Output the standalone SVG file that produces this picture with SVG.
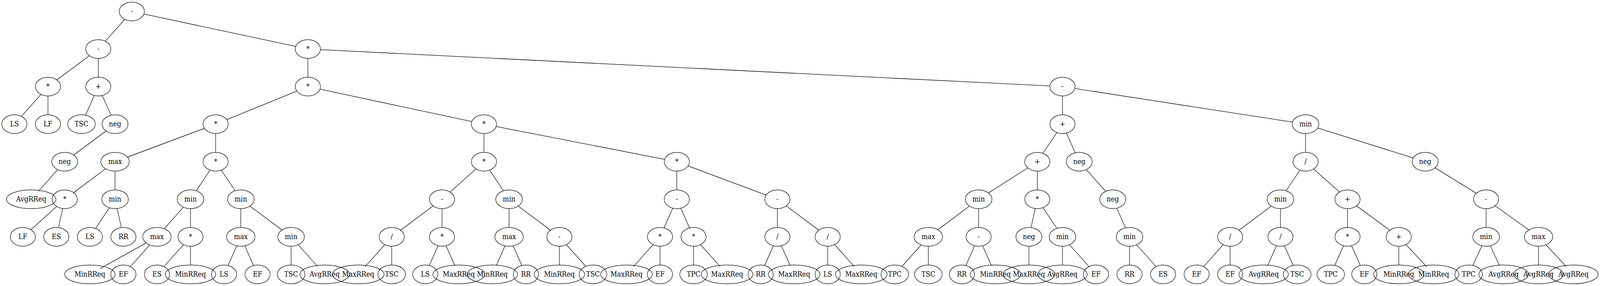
<svg xmlns="http://www.w3.org/2000/svg" width="4580" height="731" viewBox="0 0 4580 731" preserveAspectRatio="none">
<style>
svg{max-width:100vw;max-height:100vh}
.node ellipse{fill:none;stroke:#000;stroke-width:1.33}
.node text{font-family:"DejaVu Serif","Liberation Serif",serif;font-size:18.67px;text-anchor:middle;fill:#000}
#connectors line{stroke:#000;stroke-width:1.33;fill:none}
</style>
<rect width="4580" height="731" fill="#fff"/>
<g id="connectors">
<line x1="357.4" y1="49.3" x2="301.3" y2="105.4"/>
<line x1="412.0" y1="35.9" x2="846.7" y2="118.7"/>
<line x1="255.9" y1="142.3" x2="162.8" y2="204.4"/>
<line x1="281.3" y1="149.3" x2="281.3" y2="197.3"/>
<line x1="117.4" y1="241.3" x2="61.3" y2="297.4"/>
<line x1="137.3" y1="245.3" x2="137.3" y2="293.3"/>
<line x1="269.9" y1="244.1" x2="244.8" y2="294.4"/>
<line x1="292.7" y1="244.1" x2="317.9" y2="294.5"/>
<line x1="303.5" y1="334.6" x2="211.2" y2="396.1"/>
<line x1="165.2" y1="433.5" x2="109.3" y2="489.4"/>
<line x1="881.3" y1="149.3" x2="881.3" y2="197.3"/>
<line x1="917.3" y1="126.9" x2="3005.4" y2="219.7"/>
<line x1="849.7" y1="232.8" x2="648.9" y2="305.8"/>
<line x1="916.0" y1="227.9" x2="1350.7" y2="310.7"/>
<line x1="585.1" y1="328.1" x2="364.8" y2="401.5"/>
<line x1="617.3" y1="341.3" x2="617.3" y2="389.3"/>
<line x1="302.4" y1="431.3" x2="210.8" y2="492.4"/>
<line x1="329.3" y1="437.3" x2="329.3" y2="485.3"/>
<line x1="162.3" y1="527.8" x2="88.4" y2="586.9"/>
<line x1="179.4" y1="533.0" x2="167.3" y2="581.7"/>
<line x1="313.1" y1="531.0" x2="273.4" y2="583.9"/>
<line x1="335.3" y1="533.0" x2="347.4" y2="581.7"/>
<line x1="601.2" y1="434.8" x2="561.6" y2="487.6"/>
<line x1="633.4" y1="434.8" x2="673.1" y2="487.6"/>
<line x1="525.0" y1="529.6" x2="470.0" y2="584.7"/>
<line x1="545.3" y1="533.3" x2="545.3" y2="581.3"/>
<line x1="418.3" y1="620.9" x2="286.1" y2="686.9"/>
<line x1="428.7" y1="626.0" x2="373.3" y2="681.4"/>
<line x1="525.4" y1="625.3" x2="469.3" y2="681.4"/>
<line x1="545.3" y1="629.3" x2="545.3" y2="677.3"/>
<line x1="689.3" y1="533.3" x2="689.3" y2="581.3"/>
<line x1="715.5" y1="526.8" x2="807.2" y2="587.9"/>
<line x1="677.8" y1="628.4" x2="652.7" y2="678.6"/>
<line x1="700.8" y1="628.4" x2="725.9" y2="678.6"/>
<line x1="833.3" y1="629.3" x2="833.3" y2="677.3"/>
<line x1="853.6" y1="625.6" x2="909.4" y2="681.4"/>
<line x1="1385.3" y1="341.3" x2="1385.3" y2="389.3"/>
<line x1="1420.2" y1="323.4" x2="1902.5" y2="407.3"/>
<line x1="1362.3" y1="431.8" x2="1288.4" y2="490.9"/>
<line x1="1401.4" y1="434.8" x2="1441.1" y2="487.6"/>
<line x1="1239.9" y1="526.3" x2="1146.8" y2="588.4"/>
<line x1="1265.3" y1="533.3" x2="1265.3" y2="581.3"/>
<line x1="1101.4" y1="625.3" x2="1045.3" y2="681.4"/>
<line x1="1121.3" y1="629.3" x2="1121.3" y2="677.3"/>
<line x1="1253.9" y1="628.1" x2="1228.7" y2="678.6"/>
<line x1="1276.7" y1="628.1" x2="1301.9" y2="678.6"/>
<line x1="1457.3" y1="533.3" x2="1457.3" y2="581.3"/>
<line x1="1483.5" y1="526.8" x2="1575.9" y2="588.4"/>
<line x1="1445.8" y1="628.4" x2="1420.7" y2="678.6"/>
<line x1="1468.8" y1="628.4" x2="1493.9" y2="678.6"/>
<line x1="1601.3" y1="629.3" x2="1601.3" y2="677.3"/>
<line x1="1621.3" y1="625.3" x2="1676.8" y2="680.8"/>
<line x1="1937.3" y1="437.3" x2="1937.3" y2="485.3"/>
<line x1="1969.5" y1="424.1" x2="2193.1" y2="498.6"/>
<line x1="1925.9" y1="532.1" x2="1900.7" y2="582.6"/>
<line x1="1948.7" y1="532.1" x2="1973.9" y2="582.6"/>
<line x1="1869.4" y1="625.3" x2="1813.3" y2="681.4"/>
<line x1="1889.3" y1="629.3" x2="1889.3" y2="677.3"/>
<line x1="1985.3" y1="629.3" x2="1985.3" y2="677.3"/>
<line x1="2005.3" y1="625.3" x2="2061.4" y2="681.4"/>
<line x1="2225.3" y1="533.3" x2="2225.3" y2="581.3"/>
<line x1="2250.8" y1="526.3" x2="2343.9" y2="588.4"/>
<line x1="2213.9" y1="628.1" x2="2188.7" y2="678.6"/>
<line x1="2236.7" y1="628.1" x2="2261.9" y2="678.6"/>
<line x1="2369.3" y1="629.3" x2="2369.3" y2="677.3"/>
<line x1="2389.3" y1="625.3" x2="2445.4" y2="681.4"/>
<line x1="3041.3" y1="245.3" x2="3041.3" y2="293.3"/>
<line x1="3076.6" y1="226.2" x2="3700.1" y2="312.2"/>
<line x1="3025.2" y1="338.8" x2="2985.4" y2="391.9"/>
<line x1="3052.7" y1="340.1" x2="3077.9" y2="390.5"/>
<line x1="2942.0" y1="429.0" x2="2829.6" y2="493.2"/>
<line x1="2969.3" y1="437.3" x2="2969.3" y2="485.3"/>
<line x1="2775.2" y1="526.8" x2="2684.3" y2="587.4"/>
<line x1="2801.3" y1="533.3" x2="2801.3" y2="581.3"/>
<line x1="2636.7" y1="626.0" x2="2581.9" y2="680.8"/>
<line x1="2657.3" y1="629.3" x2="2657.3" y2="677.3"/>
<line x1="2789.9" y1="628.1" x2="2764.7" y2="678.6"/>
<line x1="2812.7" y1="628.1" x2="2837.9" y2="678.6"/>
<line x1="2963.4" y1="533.0" x2="2951.3" y2="581.6"/>
<line x1="2985.4" y1="530.8" x2="3025.1" y2="583.6"/>
<line x1="2945.3" y1="629.3" x2="2945.3" y2="677.3"/>
<line x1="3041.3" y1="629.3" x2="3041.3" y2="677.3"/>
<line x1="3061.6" y1="625.6" x2="3117.4" y2="681.4"/>
<line x1="3109.5" y1="433.5" x2="3165.2" y2="489.2"/>
<line x1="3196.8" y1="532.2" x2="3221.9" y2="582.4"/>
<line x1="3233.3" y1="629.3" x2="3233.3" y2="677.3"/>
<line x1="3253.6" y1="625.6" x2="3309.4" y2="681.4"/>
<line x1="3737.3" y1="341.3" x2="3737.3" y2="389.3"/>
<line x1="3772.1" y1="327.1" x2="4045.4" y2="403.8"/>
<line x1="3721.2" y1="434.8" x2="3681.6" y2="487.6"/>
<line x1="3760.4" y1="431.8" x2="3834.3" y2="490.9"/>
<line x1="3639.2" y1="526.8" x2="3546.8" y2="588.4"/>
<line x1="3665.3" y1="533.3" x2="3665.3" y2="581.3"/>
<line x1="3501.4" y1="625.3" x2="3445.3" y2="681.4"/>
<line x1="3521.3" y1="629.3" x2="3521.3" y2="677.3"/>
<line x1="3653.9" y1="628.1" x2="3628.7" y2="678.6"/>
<line x1="3676.7" y1="628.1" x2="3701.9" y2="678.4"/>
<line x1="3857.3" y1="533.3" x2="3857.3" y2="581.3"/>
<line x1="3883.0" y1="526.1" x2="3978.3" y2="588.5"/>
<line x1="3845.9" y1="628.1" x2="3820.8" y2="678.4"/>
<line x1="3868.7" y1="628.1" x2="3893.9" y2="678.6"/>
<line x1="4004" y1="629.3" x2="4004" y2="677.3"/>
<line x1="4024.5" y1="625.0" x2="4083.5" y2="681.6"/>
<line x1="4107.8" y1="428.9" x2="4226.2" y2="494.1"/>
<line x1="4254" y1="533.3" x2="4254" y2="581.3"/>
<line x1="4280.0" y1="526.0" x2="4376.4" y2="587.7"/>
<line x1="4242.1" y1="628.1" x2="4215.9" y2="678.5"/>
<line x1="4265.9" y1="628.1" x2="4292.2" y2="678.7"/>
<line x1="4404" y1="629.3" x2="4404" y2="677.3"/>
<line x1="4425.3" y1="625.8" x2="4483.5" y2="681.6"/>
</g>
<g id="nodes">
<g id="n0" class="node"><ellipse cx="377.3" cy="29.3" rx="36" ry="24"/><text x="377.3" y="34.6">-</text></g>
<g id="n1" class="node"><ellipse cx="281.3" cy="125.3" rx="36" ry="24"/><text x="281.3" y="130.6">-</text></g>
<g id="n2" class="node"><ellipse cx="137.3" cy="221.3" rx="36" ry="24"/><text x="137.3" y="226.6">*</text></g>
<g id="n3" class="node"><ellipse cx="41.3" cy="317.3" rx="36" ry="24"/><text x="41.3" y="322.6">LS</text></g>
<g id="n4" class="node"><ellipse cx="137.3" cy="317.3" rx="36" ry="24"/><text x="137.3" y="322.6">LF</text></g>
<g id="n5" class="node"><ellipse cx="281.3" cy="221.3" rx="36" ry="24"/><text x="281.3" y="226.6">+</text></g>
<g id="n6" class="node"><ellipse cx="233.3" cy="317.3" rx="39.6" ry="24"/><text x="233.3" y="322.6">TSC</text></g>
<g id="n7" class="node"><ellipse cx="329.3" cy="317.3" rx="37.2" ry="24"/><text x="329.3" y="322.6">neg</text></g>
<g id="n8" class="node"><ellipse cx="185.3" cy="413.3" rx="37.2" ry="24"/><text x="185.3" y="418.6">neg</text></g>
<g id="n9" class="node"><ellipse cx="89.3" cy="509.3" rx="70.7" ry="24"/><text x="89.3" y="514.6">AvgRReq</text></g>
<g id="n10" class="node"><ellipse cx="881.3" cy="125.3" rx="36" ry="24"/><text x="881.3" y="130.6">*</text></g>
<g id="n11" class="node"><ellipse cx="881.3" cy="221.3" rx="36" ry="24"/><text x="881.3" y="226.6">*</text></g>
<g id="n12" class="node"><ellipse cx="617.3" cy="317.3" rx="36" ry="24"/><text x="617.3" y="322.6">*</text></g>
<g id="n13" class="node"><ellipse cx="329.3" cy="413.3" rx="40.7" ry="24"/><text x="329.3" y="418.6">max</text></g>
<g id="n14" class="node"><ellipse cx="185.3" cy="509.3" rx="36" ry="24"/><text x="185.3" y="514.6">*</text></g>
<g id="n15" class="node"><ellipse cx="65.3" cy="605.3" rx="36" ry="24"/><text x="65.3" y="610.6">LF</text></g>
<g id="n16" class="node"><ellipse cx="161.3" cy="605.3" rx="36" ry="24"/><text x="161.3" y="610.6">ES</text></g>
<g id="n17" class="node"><ellipse cx="329.3" cy="509.3" rx="38.1" ry="24"/><text x="329.3" y="514.6">min</text></g>
<g id="n18" class="node"><ellipse cx="257.3" cy="605.3" rx="36" ry="24"/><text x="257.3" y="610.6">LS</text></g>
<g id="n19" class="node"><ellipse cx="353.3" cy="605.3" rx="36" ry="24"/><text x="353.3" y="610.6">RR</text></g>
<g id="n20" class="node"><ellipse cx="617.3" cy="413.3" rx="36" ry="24"/><text x="617.3" y="418.6">*</text></g>
<g id="n21" class="node"><ellipse cx="545.3" cy="509.3" rx="38.1" ry="24"/><text x="545.3" y="514.6">min</text></g>
<g id="n22" class="node"><ellipse cx="449.3" cy="605.3" rx="40.7" ry="24"/><text x="449.3" y="610.6">max</text></g>
<g id="n23" class="node"><ellipse cx="257.3" cy="701.3" rx="72.2" ry="24"/><text x="257.3" y="706.6">MinRReq</text></g>
<g id="n24" class="node"><ellipse cx="353.3" cy="701.3" rx="36" ry="24"/><text x="353.3" y="706.6">EF</text></g>
<g id="n25" class="node"><ellipse cx="545.3" cy="605.3" rx="36" ry="24"/><text x="545.3" y="610.6">*</text></g>
<g id="n26" class="node"><ellipse cx="449.3" cy="701.3" rx="36" ry="24"/><text x="449.3" y="706.6">ES</text></g>
<g id="n27" class="node"><ellipse cx="545.3" cy="701.3" rx="72.2" ry="24"/><text x="545.3" y="706.6">MinRReq</text></g>
<g id="n28" class="node"><ellipse cx="689.3" cy="509.3" rx="38.1" ry="24"/><text x="689.3" y="514.6">min</text></g>
<g id="n29" class="node"><ellipse cx="689.3" cy="605.3" rx="40.7" ry="24"/><text x="689.3" y="610.6">max</text></g>
<g id="n30" class="node"><ellipse cx="641.3" cy="701.3" rx="36" ry="24"/><text x="641.3" y="706.6">LS</text></g>
<g id="n31" class="node"><ellipse cx="737.3" cy="701.3" rx="36" ry="24"/><text x="737.3" y="706.6">EF</text></g>
<g id="n32" class="node"><ellipse cx="833.3" cy="605.3" rx="38.1" ry="24"/><text x="833.3" y="610.6">min</text></g>
<g id="n33" class="node"><ellipse cx="833.3" cy="701.3" rx="39.6" ry="24"/><text x="833.3" y="706.6">TSC</text></g>
<g id="n34" class="node"><ellipse cx="929.3" cy="701.3" rx="70.7" ry="24"/><text x="929.3" y="706.6">AvgRReq</text></g>
<g id="n35" class="node"><ellipse cx="1385.3" cy="317.3" rx="36" ry="24"/><text x="1385.3" y="322.6">*</text></g>
<g id="n36" class="node"><ellipse cx="1385.3" cy="413.3" rx="36" ry="24"/><text x="1385.3" y="418.6">*</text></g>
<g id="n37" class="node"><ellipse cx="1265.3" cy="509.3" rx="36" ry="24"/><text x="1265.3" y="514.6">-</text></g>
<g id="n38" class="node"><ellipse cx="1121.3" cy="605.3" rx="36" ry="24"/><text x="1121.3" y="610.6">/</text></g>
<g id="n39" class="node"><ellipse cx="1025.3" cy="701.3" rx="74" ry="24"/><text x="1025.3" y="706.6">MaxRReq</text></g>
<g id="n40" class="node"><ellipse cx="1121.3" cy="701.3" rx="39.6" ry="24"/><text x="1121.3" y="706.6">TSC</text></g>
<g id="n41" class="node"><ellipse cx="1265.3" cy="605.3" rx="36" ry="24"/><text x="1265.3" y="610.6">*</text></g>
<g id="n42" class="node"><ellipse cx="1217.3" cy="701.3" rx="36" ry="24"/><text x="1217.3" y="706.6">LS</text></g>
<g id="n43" class="node"><ellipse cx="1313.3" cy="701.3" rx="74" ry="24"/><text x="1313.3" y="706.6">MaxRReq</text></g>
<g id="n44" class="node"><ellipse cx="1457.3" cy="509.3" rx="38.1" ry="24"/><text x="1457.3" y="514.6">min</text></g>
<g id="n45" class="node"><ellipse cx="1457.3" cy="605.3" rx="40.7" ry="24"/><text x="1457.3" y="610.6">max</text></g>
<g id="n46" class="node"><ellipse cx="1409.3" cy="701.3" rx="72.2" ry="24"/><text x="1409.3" y="706.6">MinRReq</text></g>
<g id="n47" class="node"><ellipse cx="1505.3" cy="701.3" rx="36" ry="24"/><text x="1505.3" y="706.6">RR</text></g>
<g id="n48" class="node"><ellipse cx="1601.3" cy="605.3" rx="36" ry="24"/><text x="1601.3" y="610.6">-</text></g>
<g id="n49" class="node"><ellipse cx="1601.3" cy="701.3" rx="72.2" ry="24"/><text x="1601.3" y="706.6">MinRReq</text></g>
<g id="n50" class="node"><ellipse cx="1697.3" cy="701.3" rx="39.6" ry="24"/><text x="1697.3" y="706.6">TSC</text></g>
<g id="n51" class="node"><ellipse cx="1937.3" cy="413.3" rx="36" ry="24"/><text x="1937.3" y="418.6">*</text></g>
<g id="n52" class="node"><ellipse cx="1937.3" cy="509.3" rx="36" ry="24"/><text x="1937.3" y="514.6">-</text></g>
<g id="n53" class="node"><ellipse cx="1889.3" cy="605.3" rx="36" ry="24"/><text x="1889.3" y="610.6">*</text></g>
<g id="n54" class="node"><ellipse cx="1793.3" cy="701.3" rx="74" ry="24"/><text x="1793.3" y="706.6">MaxRReq</text></g>
<g id="n55" class="node"><ellipse cx="1889.3" cy="701.3" rx="36" ry="24"/><text x="1889.3" y="706.6">EF</text></g>
<g id="n56" class="node"><ellipse cx="1985.3" cy="605.3" rx="36" ry="24"/><text x="1985.3" y="610.6">*</text></g>
<g id="n57" class="node"><ellipse cx="1985.3" cy="701.3" rx="39.4" ry="24"/><text x="1985.3" y="706.6">TPC</text></g>
<g id="n58" class="node"><ellipse cx="2081.3" cy="701.3" rx="74" ry="24"/><text x="2081.3" y="706.6">MaxRReq</text></g>
<g id="n59" class="node"><ellipse cx="2225.3" cy="509.3" rx="36" ry="24"/><text x="2225.3" y="514.6">-</text></g>
<g id="n60" class="node"><ellipse cx="2225.3" cy="605.3" rx="36" ry="24"/><text x="2225.3" y="610.6">/</text></g>
<g id="n61" class="node"><ellipse cx="2177.3" cy="701.3" rx="36" ry="24"/><text x="2177.3" y="706.6">RR</text></g>
<g id="n62" class="node"><ellipse cx="2273.3" cy="701.3" rx="74" ry="24"/><text x="2273.3" y="706.6">MaxRReq</text></g>
<g id="n63" class="node"><ellipse cx="2369.3" cy="605.3" rx="36" ry="24"/><text x="2369.3" y="610.6">/</text></g>
<g id="n64" class="node"><ellipse cx="2369.3" cy="701.3" rx="36" ry="24"/><text x="2369.3" y="706.6">LS</text></g>
<g id="n65" class="node"><ellipse cx="2465.3" cy="701.3" rx="74" ry="24"/><text x="2465.3" y="706.6">MaxRReq</text></g>
<g id="n66" class="node"><ellipse cx="3041.3" cy="221.3" rx="36" ry="24"/><text x="3041.3" y="226.6">-</text></g>
<g id="n67" class="node"><ellipse cx="3041.3" cy="317.3" rx="36" ry="24"/><text x="3041.3" y="322.6">+</text></g>
<g id="n68" class="node"><ellipse cx="2969.3" cy="413.3" rx="36" ry="24"/><text x="2969.3" y="418.6">+</text></g>
<g id="n69" class="node"><ellipse cx="2801.3" cy="509.3" rx="38.1" ry="24"/><text x="2801.3" y="514.6">min</text></g>
<g id="n70" class="node"><ellipse cx="2657.3" cy="605.3" rx="40.7" ry="24"/><text x="2657.3" y="610.6">max</text></g>
<g id="n71" class="node"><ellipse cx="2561.3" cy="701.3" rx="39.4" ry="24"/><text x="2561.3" y="706.6">TPC</text></g>
<g id="n72" class="node"><ellipse cx="2657.3" cy="701.3" rx="39.6" ry="24"/><text x="2657.3" y="706.6">TSC</text></g>
<g id="n73" class="node"><ellipse cx="2801.3" cy="605.3" rx="36" ry="24"/><text x="2801.3" y="610.6">-</text></g>
<g id="n74" class="node"><ellipse cx="2753.3" cy="701.3" rx="36" ry="24"/><text x="2753.3" y="706.6">RR</text></g>
<g id="n75" class="node"><ellipse cx="2849.3" cy="701.3" rx="72.2" ry="24"/><text x="2849.3" y="706.6">MinRReq</text></g>
<g id="n76" class="node"><ellipse cx="2969.3" cy="509.3" rx="36" ry="24"/><text x="2969.3" y="514.6">*</text></g>
<g id="n77" class="node"><ellipse cx="2945.3" cy="605.3" rx="37.2" ry="24"/><text x="2945.3" y="610.6">neg</text></g>
<g id="n78" class="node"><ellipse cx="2945.3" cy="701.3" rx="74" ry="24"/><text x="2945.3" y="706.6">MaxRReq</text></g>
<g id="n79" class="node"><ellipse cx="3041.3" cy="605.3" rx="38.1" ry="24"/><text x="3041.3" y="610.6">min</text></g>
<g id="n80" class="node"><ellipse cx="3041.3" cy="701.3" rx="70.7" ry="24"/><text x="3041.3" y="706.6">AvgRReq</text></g>
<g id="n81" class="node"><ellipse cx="3137.3" cy="701.3" rx="36" ry="24"/><text x="3137.3" y="706.6">EF</text></g>
<g id="n82" class="node"><ellipse cx="3089.3" cy="413.3" rx="37.2" ry="24"/><text x="3089.3" y="418.6">neg</text></g>
<g id="n83" class="node"><ellipse cx="3185.3" cy="509.3" rx="37.2" ry="24"/><text x="3185.3" y="514.6">neg</text></g>
<g id="n84" class="node"><ellipse cx="3233.3" cy="605.3" rx="38.1" ry="24"/><text x="3233.3" y="610.6">min</text></g>
<g id="n85" class="node"><ellipse cx="3233.3" cy="701.3" rx="36" ry="24"/><text x="3233.3" y="706.6">RR</text></g>
<g id="n86" class="node"><ellipse cx="3329.3" cy="701.3" rx="36" ry="24"/><text x="3329.3" y="706.6">ES</text></g>
<g id="n87" class="node"><ellipse cx="3737.3" cy="317.3" rx="38.1" ry="24"/><text x="3737.3" y="322.6">min</text></g>
<g id="n88" class="node"><ellipse cx="3737.3" cy="413.3" rx="36" ry="24"/><text x="3737.3" y="418.6">/</text></g>
<g id="n89" class="node"><ellipse cx="3665.3" cy="509.3" rx="38.1" ry="24"/><text x="3665.3" y="514.6">min</text></g>
<g id="n90" class="node"><ellipse cx="3521.3" cy="605.3" rx="36" ry="24"/><text x="3521.3" y="610.6">/</text></g>
<g id="n91" class="node"><ellipse cx="3425.3" cy="701.3" rx="36" ry="24"/><text x="3425.3" y="706.6">EF</text></g>
<g id="n92" class="node"><ellipse cx="3521.3" cy="701.3" rx="36" ry="24"/><text x="3521.3" y="706.6">EF</text></g>
<g id="n93" class="node"><ellipse cx="3665.3" cy="605.3" rx="36" ry="24"/><text x="3665.3" y="610.6">/</text></g>
<g id="n94" class="node"><ellipse cx="3617.3" cy="701.3" rx="70.7" ry="24"/><text x="3617.3" y="706.6">AvgRReq</text></g>
<g id="n95" class="node"><ellipse cx="3713.3" cy="701.3" rx="39.6" ry="24"/><text x="3713.3" y="706.6">TSC</text></g>
<g id="n96" class="node"><ellipse cx="3857.3" cy="509.3" rx="36" ry="24"/><text x="3857.3" y="514.6">+</text></g>
<g id="n97" class="node"><ellipse cx="3857.3" cy="605.3" rx="36" ry="24"/><text x="3857.3" y="610.6">*</text></g>
<g id="n98" class="node"><ellipse cx="3809.3" cy="701.3" rx="39.4" ry="24"/><text x="3809.3" y="706.6">TPC</text></g>
<g id="n99" class="node"><ellipse cx="3905.3" cy="701.3" rx="36" ry="24"/><text x="3905.3" y="706.6">EF</text></g>
<g id="n100" class="node"><ellipse cx="4004" cy="605.3" rx="36" ry="24"/><text x="4004" y="610.6">+</text></g>
<g id="n101" class="node"><ellipse cx="4004" cy="701.3" rx="72.2" ry="24"/><text x="4004" y="706.6">MinRReq</text></g>
<g id="n102" class="node"><ellipse cx="4104" cy="701.3" rx="72.2" ry="24"/><text x="4104" y="706.6">MinRReq</text></g>
<g id="n103" class="node"><ellipse cx="4079.5" cy="413.3" rx="37.2" ry="24"/><text x="4079.5" y="418.6">neg</text></g>
<g id="n104" class="node"><ellipse cx="4254" cy="509.3" rx="36" ry="24"/><text x="4254" y="514.6">-</text></g>
<g id="n105" class="node"><ellipse cx="4254" cy="605.3" rx="38.1" ry="24"/><text x="4254" y="610.6">min</text></g>
<g id="n106" class="node"><ellipse cx="4204" cy="701.3" rx="39.4" ry="24"/><text x="4204" y="706.6">TPC</text></g>
<g id="n107" class="node"><ellipse cx="4304" cy="701.3" rx="70.7" ry="24"/><text x="4304" y="706.6">AvgRReq</text></g>
<g id="n108" class="node"><ellipse cx="4404" cy="605.3" rx="40.7" ry="24"/><text x="4404" y="610.6">max</text></g>
<g id="n109" class="node"><ellipse cx="4404" cy="701.3" rx="70.7" ry="24"/><text x="4404" y="706.6">AvgRReq</text></g>
<g id="n110" class="node"><ellipse cx="4504" cy="701.3" rx="70.7" ry="24"/><text x="4504" y="706.6">AvgRReq</text></g>
</g>
</svg>
